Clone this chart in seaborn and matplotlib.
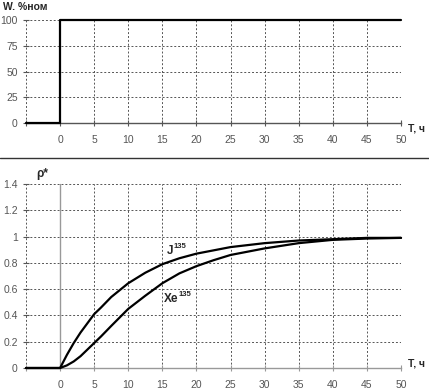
import matplotlib
matplotlib.use("Agg")
import matplotlib.pyplot as plt
import matplotlib.ticker as mticker
import seaborn as sns
import pandas as pd

# ---- data ----
w_t = [-5, 0, 0, 50]
w_val = [0, 0, 100, 100]

t_vals = [-5, 0, 1, 2, 2.5, 3, 4, 5, 6, 7.5, 10, 12.5, 15, 17.5, 20, 22.5, 25, 30, 35, 40, 45, 50]
iodine = [0, 0, 0.10, 0.19, 0.23, 0.27, 0.34, 0.41, 0.46, 0.54, 0.645, 0.725, 0.79, 0.835, 0.87, 0.895, 0.92, 0.95, 0.97, 0.98, 0.99, 0.99]
xenon = [0, 0, 0.02, 0.05, 0.07, 0.09, 0.14, 0.19, 0.24, 0.32, 0.45, 0.55, 0.645, 0.72, 0.775, 0.82, 0.86, 0.91, 0.95, 0.975, 0.985, 0.99]

x_ticks = [0, 5, 10, 15, 20, 25, 30, 35, 40, 45, 50]
w_ticks = [0, 25, 50, 75, 100]
rho_ticks = [0, 0.2, 0.4, 0.6, 0.8, 1, 1.2, 1.4]

sns.set_theme(style="white")
plt.rcParams["font.family"] = ["Liberation Sans", "DejaVu Sans"]

W, H = 429, 391
fig = plt.figure(figsize=(W / 100, H / 100), dpi=100)
fig.patch.set_facecolor("white")

def fx(px):
    return px / W

def fy(py):
    return 1 - py / H

ax1 = fig.add_axes([fx(26), fy(123), fx(401) - fx(26), fy(20) - fy(123)])
ax2 = fig.add_axes([fx(26), fy(368), fx(401) - fx(26), fy(184) - fy(368)])

def style(ax, yticks, axis_color):
    ax.set_facecolor("white")
    ax.set_xlim(-5, 50)
    ax.set_ylim(yticks[0], yticks[-1])
    ax.set_xticks([-5] + x_ticks)
    ax.set_xticklabels([""] + [str(v) for v in x_ticks])
    ax.set_yticks(yticks)
    ax.yaxis.set_major_formatter(mticker.FuncFormatter(lambda v, p: f"{v:g}"))
    ax.grid(True, color="#555555", linestyle=(0, (2, 2)), linewidth=0.7)
    for s in ["top", "right", "left"]:
        ax.spines[s].set_visible(False)
    ax.spines["bottom"].set_color(axis_color)
    ax.spines["bottom"].set_linewidth(1.0)
    ax.tick_params(axis="x", direction="inout", length=5, width=0.8, color=axis_color,
                   labelsize=7.5, labelcolor="#555555", pad=6, bottom=True)
    ax.tick_params(axis="y", direction="inout", length=4, width=0.8, color="#555555",
                   labelsize=7.5, labelcolor="#555555", pad=4, left=True)

style(ax1, w_ticks, "#555555")
style(ax2, rho_ticks, "#999999")

df_w = pd.DataFrame({"t": w_t, "w": w_val})
sns.lineplot(data=df_w, x="t", y="w", ax=ax1, color="black", linewidth=1.6,
             sort=False, estimator=None)
ax1.set_xlabel("")
ax1.set_ylabel("")

ax2.axvline(0, color="#999999", linewidth=1.0, zorder=1)
df = pd.DataFrame({"t": t_vals, "J": iodine, "Xe": xenon})
sns.lineplot(data=df, x="t", y="Xe", ax=ax2, color="black", linewidth=1.6,
             sort=False, estimator=None)
sns.lineplot(data=df, x="t", y="J", ax=ax2, color="black", linewidth=1.6,
             sort=False, estimator=None)
ax2.set_xlabel("")
ax2.set_ylabel("")

for ax in (ax1, ax2):
    for ln in ax.get_lines():
        ln.set_clip_on(False)
        ln.set_zorder(5)

def label(ax, x, y, base, sup, base_w):
    ax.text(x, y, base, fontsize=8.5, fontweight="bold", ha="left", va="baseline")
    ax.annotate(sup, xy=(x, y), xycoords="data", xytext=(base_w, 4.5),
                textcoords="offset points", fontsize=5.5, fontweight="bold",
                ha="left", va="baseline")

label(ax2, 15.6, 0.865, "J", "135", 5.0)
label(ax2, 15.2, 0.5, "Xe", "135", 11.0)

# labels
fig.text(fx(3), fy(7), "W. %ном", fontsize=7.5, fontweight="bold", ha="left", va="center")
fig.text(fx(36), fy(174), "ρ*", fontsize=8.5, fontweight="bold", ha="left", va="center")
fig.text(fx(408), fy(128), "T, ч", fontsize=7.5, fontweight="bold", ha="left", va="center")
fig.text(fx(408), fy(364), "T, ч", fontsize=7.5, fontweight="bold", ha="left", va="center")

# separator line
fig.add_artist(plt.Line2D([0, 1], [fy(158), fy(158)], color="#333333", linewidth=1.0,
                          transform=fig.transFigure))

fig.savefig("out.png", dpi=100)
